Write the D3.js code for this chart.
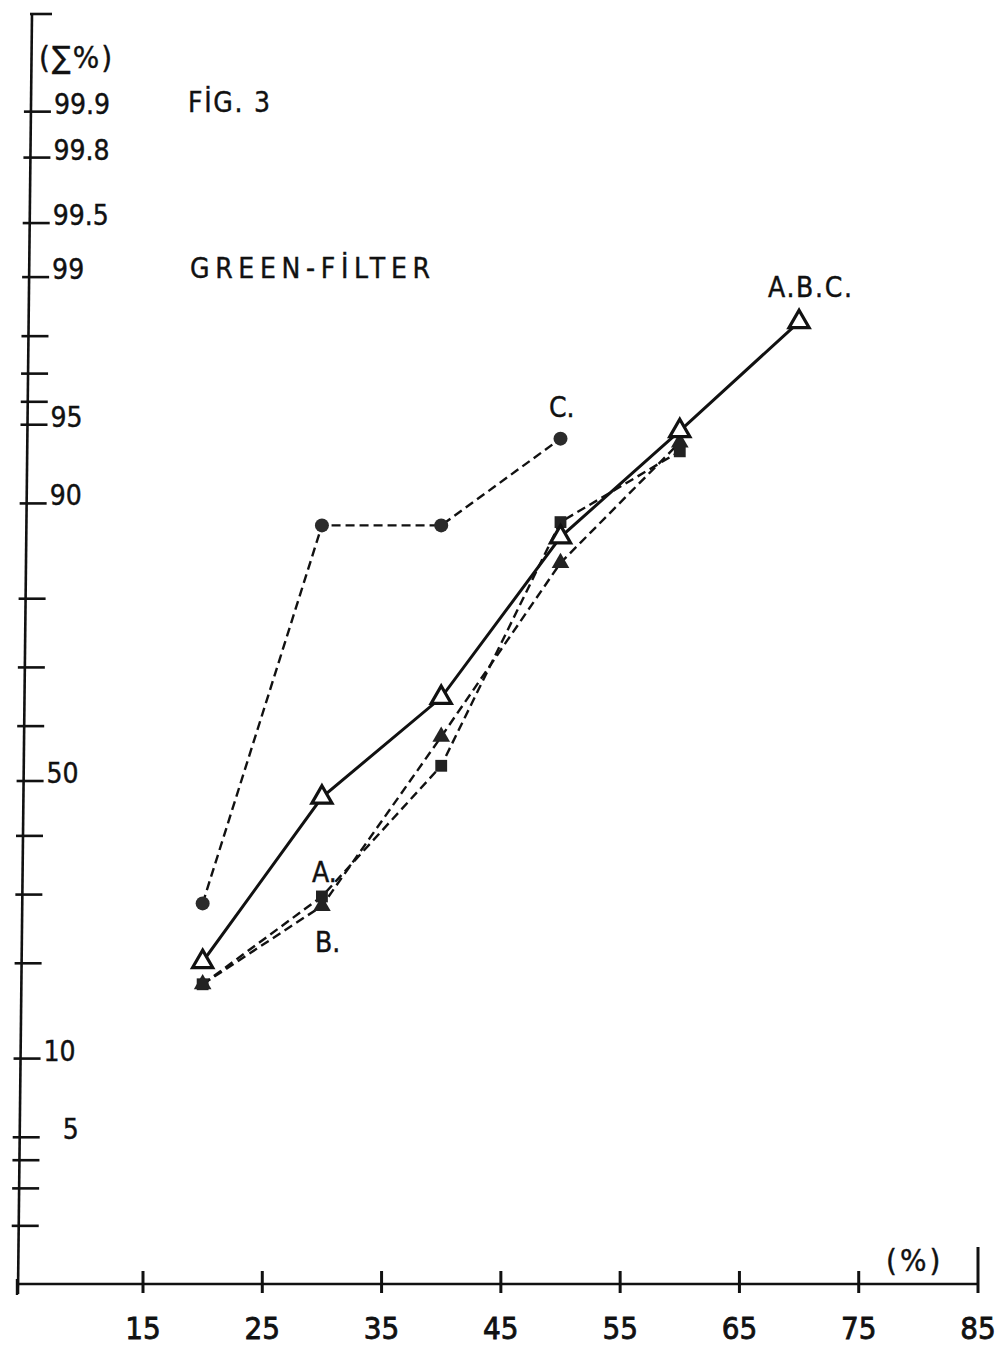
<!DOCTYPE html>
<html lang="en">
	<head>
		<meta charset="utf-8">
		<title>Fig. 3 - Green filter</title>
		<script type="text/javascript" src="https://cdn.jsdelivr.net/npm/d3@7/dist/d3.min.js"></script>
		<style type="text/css">
			body{
				margin: 0;
				background: #ffffff;
			}
			text{
				font-family: "DejaVu Sans Condensed", "DejaVu Sans", sans-serif;
				fill: #111;
				stroke: #111;
				stroke-width: 0.4px;
			}
		</style>
	</head>
	<body>
		<script type="text/javascript">

			//Chart data
			var xValues = [20, 30, 40, 50, 60, 70];
			var seriesABC = [20.2, 47, 65, 87, 94.7, 98.3];
			var seriesA = [17.4, 29.7, 52.8, 88.4, 93.6];
			var seriesB = [17.4, 28.2, 58.1, 84.3, 94.1];
			var seriesC = [28.6, 88.1, 88.1, 94.3];

			//Axis ticks
			var xTicks = [15, 25, 35, 45, 55, 65, 75, 85];
			var yTicks = [99.9, 99.8, 99.5, 99, 98, 97, 96, 95, 90, 80, 70, 60, 50, 40, 30, 20, 10, 5, 4, 3, 2];
			var yTickLabels = ["99.9", "99.8", "99.5", "99", "95", "90", "50", "10", "5"];

			//Width and height
			var w = 996;
			var h = 1345;

			//inverse normal cdf (probability paper)
			function probit(p) {
				var a = [-3.969683028665376e+01, 2.209460984245205e+02, -2.759285104469687e+02, 1.383577518672690e+02, -3.066479806614716e+01, 2.506628277459239e+00];
				var b = [-5.447609879822406e+01, 1.615858368580409e+02, -1.556989798598866e+02, 6.680131188771972e+01, -1.328068155288572e+01];
				var c = [-7.784894002430293e-03, -3.223964580411365e-01, -2.400758277161838e+00, -2.549732539343734e+00, 4.374664141464968e+00, 2.938163982698783e+00];
				var d = [7.784695709041462e-03, 3.224671290700398e-01, 2.445134137142996e+00, 3.754408661907416e+00];
				var pl = 0.02425, q, r;
				if (p < pl) {
					q = Math.sqrt(-2 * Math.log(p));
					return (((((c[0]*q+c[1])*q+c[2])*q+c[3])*q+c[4])*q+c[5]) / ((((d[0]*q+d[1])*q+d[2])*q+d[3])*q+1);
				}
				if (p <= 1 - pl) {
					q = p - 0.5; r = q * q;
					return (((((a[0]*r+a[1])*r+a[2])*r+a[3])*r+a[4])*r+a[5])*q / (((((b[0]*r+b[1])*r+b[2])*r+b[3])*r+b[4])*r+1);
				}
				q = Math.sqrt(-2 * Math.log(1 - p));
				return -(((((c[0]*q+c[1])*q+c[2])*q+c[3])*q+c[4])*q+c[5]) / ((((d[0]*q+d[1])*q+d[2])*q+d[3])*q+1);
			}

			//Scales
			var xScale = d3.scaleLinear()
							.domain([15, 85])
							.range([143, 978]);

			var zScale = d3.scaleLinear()
							.domain([0, 1])
							.range([781, 564.4]);

			var yScale = function(p) { return zScale(probit(p / 100)); };

			//hand drawn axis leans a little
			var axisX = d3.scaleLinear()
							.domain([14, 1292])
							.range([32, 18]);

			//Create SVG element
			var svg = d3.select("body")
						.append("svg")
						.attr("width", w)
						.attr("height", h);

			// y axis
			svg.append("line")
				.attr("x1", axisX(14)).attr("y1", 14)
				.attr("x2", axisX(1294)).attr("y2", 1294)
				.attr("stroke", "#111").attr("stroke-width", 2.6);
			svg.append("line")
				.attr("x1", 30).attr("y1", 14)
				.attr("x2", 52).attr("y2", 14)
				.attr("stroke", "#111").attr("stroke-width", 2.6);

			svg.selectAll(".ytick")
			   .data(yTicks)
			   .enter()
			   .append("line")
			   .attr("class", "ytick")
			   .attr("x1", function(d) { return axisX(yScale(d)) - 7; })
			   .attr("x2", function(d) { return axisX(yScale(d)) + 20; })
			   .attr("y1", function(d) { return yScale(d); })
			   .attr("y2", function(d) { return yScale(d); })
			   .attr("stroke", "#111")
			   .attr("stroke-width", 2.6);

			svg.selectAll(".ylabel")
			   .data(yTickLabels)
			   .enter()
			   .append("text")
			   .attr("class", "ylabel")
			   .attr("x", function(d) {
					var y = yScale(+d);
					return axisX(y) + (d.length == 1 ? 43 : 23);
			   })
			   .attr("y", function(d) { return yScale(+d) + 2; })
			   .attr("font-size", 28)
			   .text(function(d) { return d; });

			svg.append("text")
				.attr("x", 39).attr("y", 68)
				.attr("font-size", 31)
				.attr("letter-spacing", 2)
				.text("(\u2211%)");

			// x axis
			svg.append("line")
				.attr("x1", 16).attr("y1", 1284)
				.attr("x2", 979).attr("y2", 1284)
				.attr("stroke", "#111").attr("stroke-width", 2.4);
			svg.append("line")
				.attr("x1", 17).attr("y1", 1279)
				.attr("x2", 17).attr("y2", 1295)
				.attr("stroke", "#111").attr("stroke-width", 2.4);

			svg.selectAll(".xtick")
			   .data(xTicks)
			   .enter()
			   .append("line")
			   .attr("class", "xtick")
			   .attr("x1", function(d) { return xScale(d); })
			   .attr("x2", function(d) { return xScale(d); })
			   .attr("y1", function(d, i) { return i == xTicks.length - 1 ? 1247 : 1271; })
			   .attr("y2", 1293)
			   .attr("stroke", "#111")
			   .attr("stroke-width", 3);

			svg.selectAll(".xlabel")
			   .data(xTicks)
			   .enter()
			   .append("text")
			   .attr("class", "xlabel")
			   .attr("x", function(d) { return xScale(d); })
			   .attr("y", 1339)
			   .attr("text-anchor", "middle")
			   .attr("font-size", 31)
			   .style("stroke-width", "0.8px")
			   .text(function(d) { return d; });

			svg.append("text")
				.attr("x", 886).attr("y", 1271)
				.attr("font-size", 31)
				.attr("letter-spacing", 3)
				.text("(%)");

			// titles
			svg.append("text")
				.attr("x", 188).attr("y", 112)
				.attr("font-size", 28)
				.attr("textLength", 82)
				.attr("lengthAdjust", "spacing")
				.text("F\u0130G. 3");

			svg.append("text")
				.attr("x", 190).attr("y", 278)
				.attr("font-size", 28)
				.attr("textLength", 240)
				.attr("lengthAdjust", "spacing")
				.text("GREEN-F\u0130LTER");

			//line generator
			function lineFor(vals) {
				return d3.line()
						.x(function(d, i) { return xScale(xValues[i]); })
						.y(function(d) { return yScale(d); })(vals);
			}

			// dashed series
			[seriesC, seriesA, seriesB].forEach(function(s) {
				svg.append("path")
					.attr("d", lineFor(s))
					.attr("fill", "none")
					.attr("stroke", "#111")
					.attr("stroke-width", 2.4)
					.attr("stroke-dasharray", "9,5");
			});

			svg.selectAll(".ptC")
			   .data(seriesC)
			   .enter()
			   .append("circle")
			   .attr("class", "ptC")
			   .attr("cx", function(d, i) { return xScale(xValues[i]); })
			   .attr("cy", function(d) { return yScale(d); })
			   .attr("r", 7)
			   .attr("fill", "#2b2b2b");

			svg.selectAll(".ptA")
			   .data(seriesA)
			   .enter()
			   .append("path")
			   .attr("class", "ptA")
			   .attr("d", d3.symbol().type(d3.symbolSquare).size(140))
			   .attr("transform", function(d, i) { return "translate(" + xScale(xValues[i]) + "," + yScale(d) + ")"; })
			   .attr("fill", "#222");

			svg.selectAll(".ptB")
			   .data(seriesB)
			   .enter()
			   .append("path")
			   .attr("class", "ptB")
			   .attr("d", d3.symbol().type(d3.symbolTriangle).size(135))
			   .attr("transform", function(d, i) { return "translate(" + xScale(xValues[i]) + "," + yScale(d) + ")"; })
			   .attr("fill", "#222");

			// solid A.B.C. series
			svg.append("path")
				.attr("d", lineFor(seriesABC))
				.attr("fill", "none")
				.attr("stroke", "#111")
				.attr("stroke-width", 3);

			svg.selectAll(".ptABC")
			   .data(seriesABC)
			   .enter()
			   .append("path")
			   .attr("class", "ptABC")
			   .attr("d", d3.symbol().type(d3.symbolTriangle).size(175))
			   .attr("transform", function(d, i) { return "translate(" + xScale(xValues[i]) + "," + yScale(d) + ")"; })
			   .attr("fill", "#fff")
			   .attr("stroke", "#111")
			   .attr("stroke-width", 3.2);

			// series labels
			svg.append("text").attr("x", 768).attr("y", 297).attr("font-size", 28).attr("textLength", 84).attr("lengthAdjust", "spacing").text("A.B.C.");
			svg.append("text").attr("x", 549).attr("y", 417).attr("font-size", 28).text("C.");
			svg.append("text").attr("x", 312).attr("y", 882).attr("font-size", 28).text("A.");
			svg.append("text").attr("x", 315).attr("y", 952).attr("font-size", 28).text("B.");

		</script>
	</body>
</html>
